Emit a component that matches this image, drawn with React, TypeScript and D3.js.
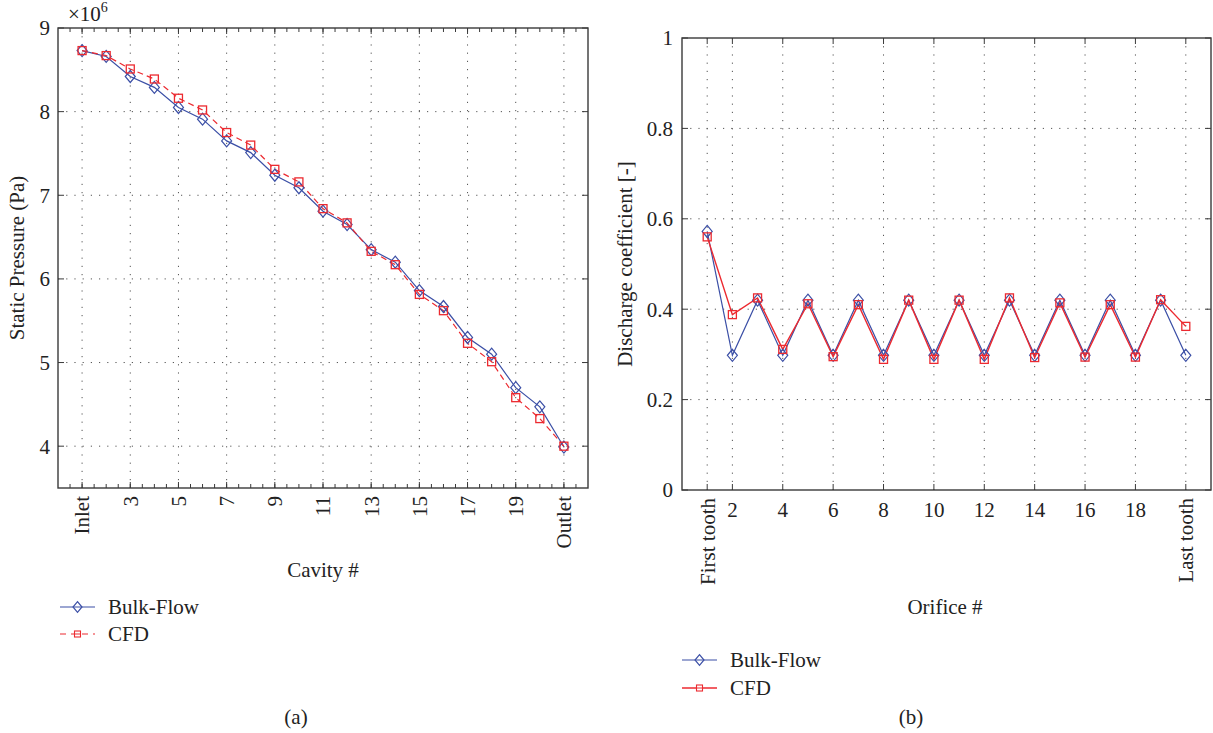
import React from "react";
import * as d3 from "d3";

// ---------- data ----------
const cavities = [1, 2, 3, 4, 5, 6, 7, 8, 9, 10, 11, 12, 13, 14, 15, 16, 17, 18, 19, 20, 21];
const bulkFlowPressure = [8.73, 8.66, 8.42, 8.29, 8.05, 7.91, 7.65, 7.51, 7.24, 7.09, 6.81, 6.65, 6.35, 6.2, 5.86, 5.67, 5.3, 5.1, 4.7, 4.47, 3.99];
const cfdPressure = [8.73, 8.67, 8.51, 8.39, 8.16, 8.02, 7.75, 7.6, 7.31, 7.16, 6.84, 6.67, 6.33, 6.17, 5.815, 5.62, 5.23, 5.01, 4.58, 4.33, 4.0];
const cavityTickValues = [1, 3, 5, 7, 9, 11, 13, 15, 17, 19, 21];
const cavityTickLabels = ["Inlet", "3", "5", "7", "9", "11", "13", "15", "17", "19", "Outlet"];
const pressureTicks = [4, 5, 6, 7, 8, 9];

const orifices = [1, 2, 3, 4, 5, 6, 7, 8, 9, 10, 11, 12, 13, 14, 15, 16, 17, 18, 19, 20];
const bulkFlowCd = [0.572, 0.298, 0.42, 0.298, 0.42, 0.298, 0.42, 0.298, 0.42, 0.298, 0.42, 0.298, 0.42, 0.298, 0.42, 0.298, 0.42, 0.298, 0.42, 0.298];
const cfdCd = [0.56, 0.388, 0.425, 0.311, 0.412, 0.295, 0.41, 0.289, 0.42, 0.289, 0.42, 0.289, 0.425, 0.293, 0.414, 0.294, 0.41, 0.294, 0.421, 0.362];
const orificeTickValues = [1, 2, 4, 6, 8, 10, 12, 14, 16, 18, 20];
const orificeTickLabels = ["First tooth", "2", "4", "6", "8", "10", "12", "14", "16", "18", "Last tooth"];
const cdTicks = [0, 0.2, 0.4, 0.6, 0.8, 1];
const cdTickLabels = ["0", "0.2", "0.4", "0.6", "0.8", "1"];

const seriesNames = ["Bulk-Flow", "CFD"];

// ---------- style ----------
const BLUE = "#3b4fa6";
const RED = "#ec2a30";
const AXIS = "#3a3a3a";
const FONT = "'Liberation Serif', 'DejaVu Serif', serif";
const FS = 21;

function Diamond({ x, y, s = 5 }: { x: number; y: number; s?: number }) {
  return (
    <path
      d={`M${x},${y - s * 1.2}L${x + s},${y}L${x},${y + s * 1.2}L${x - s},${y}Z`}
      fill="none"
      stroke={BLUE}
      strokeWidth={1.2}
    />
  );
}
function Square({ x, y, s = 4 }: { x: number; y: number; s?: number }) {
  return <rect x={x - s} y={y - s} width={2 * s} height={2 * s} fill="none" stroke={RED} strokeWidth={1.3} />;
}

const gridDash = "1.2,7";

function LeftChart() {
  const L = 58, R = 588, T = 28, B = 488;
  const x = d3.scaleLinear().domain([0, 22]).range([L, R]);
  const y = d3.scaleLinear().domain([3.5, 9]).range([B, T]);
  const line = d3.line<number>().x((_, i) => x(cavities[i])).y((d) => y(d));
  const minor = d3.range(0.5, 22, 0.5);
  return (
    <g fontFamily={FONT} fontSize={FS} fill="#222">
      {cavityTickValues.map((v) => (
        <line key={"gx" + v} x1={x(v)} x2={x(v)} y1={T} y2={B} stroke="#555" strokeDasharray={gridDash} strokeWidth={1} />
      ))}
      {pressureTicks.slice(0, -1).map((v) => (
        <line key={"gy" + v} x1={L} x2={R} y1={y(v)} y2={y(v)} stroke="#555" strokeDasharray={gridDash} strokeWidth={1} />
      ))}
      {minor.map((v) => (
        <g key={"mt" + v}>
          <line x1={x(v)} x2={x(v)} y1={B} y2={B - 4} stroke={AXIS} strokeWidth={1} />
          <line x1={x(v)} x2={x(v)} y1={T} y2={T + 4} stroke={AXIS} strokeWidth={1} />
        </g>
      ))}
      {cavityTickValues.map((v) => (
        <g key={"xt" + v}>
          <line x1={x(v)} x2={x(v)} y1={B} y2={B - 6} stroke={AXIS} strokeWidth={1} />
          <line x1={x(v)} x2={x(v)} y1={T} y2={T + 6} stroke={AXIS} strokeWidth={1} />
        </g>
      ))}
      {pressureTicks.map((v) => (
        <g key={"yt" + v}>
          <line x1={L} x2={L + 6} y1={y(v)} y2={y(v)} stroke={AXIS} strokeWidth={1} />
          <line x1={R} x2={R - 6} y1={y(v)} y2={y(v)} stroke={AXIS} strokeWidth={1} />
          <text x={L - 8} y={y(v)} textAnchor="end" dy="0.35em">{v}</text>
        </g>
      ))}
      <rect x={L} y={T} width={R - L} height={B - T} fill="none" stroke={AXIS} strokeWidth={1.4} />
      {cavityTickValues.map((v, i) => (
        <text key={"xl" + v} transform={`translate(${x(v)},${B + 8}) rotate(-90)`} textAnchor="end" dy="0.35em">
          {cavityTickLabels[i]}
        </text>
      ))}
      <text x={68} y={21} fontSize={FS}>
        ×10<tspan fontSize={14} dy={-9}>6</tspan>
      </text>
      <text transform={`translate(24,${(T + B) / 2}) rotate(-90)`} textAnchor="middle">Static Pressure (Pa)</text>
      <text x={323} y={577} textAnchor="middle">Cavity #</text>
      <path d={line(bulkFlowPressure) || ""} fill="none" stroke={BLUE} strokeWidth={1.2} />
      <path d={line(cfdPressure) || ""} fill="none" stroke={RED} strokeWidth={1.2} strokeDasharray="6,4" />
      {bulkFlowPressure.map((d, i) => <Diamond key={"bd" + i} x={x(cavities[i])} y={y(d)} />)}
      {cfdPressure.map((d, i) => <Square key={"cs" + i} x={x(cavities[i])} y={y(d)} />)}
      <line x1={60} x2={95} y1={607} y2={607} stroke={BLUE} strokeWidth={1.2} />
      <Diamond x={77.5} y={607} s={4.5} />
      <text x={108} y={607} dy="0.35em">{seriesNames[0]}</text>
      <line x1={60} x2={95} y1={634} y2={634} stroke={RED} strokeWidth={1.2} strokeDasharray="6,5" />
      <rect x={74.5} y={631} width={6} height={6} fill="white" stroke={RED} strokeWidth={1.1} />
      <line x1={74.5} x2={80.5} y1={634} y2={634} stroke={RED} strokeWidth={1} />
      <text x={108} y={634} dy="0.35em">{seriesNames[1]}</text>
      <text x={296} y={717} textAnchor="middle" dy="0.35em">(a)</text>
    </g>
  );
}

function RightChart() {
  const L = 682, R = 1211, T = 38, B = 490;
  const x = d3.scaleLinear().domain([0, 21]).range([L, R]);
  const y = d3.scaleLinear().domain([0, 1]).range([B, T]);
  const line = d3.line<number>().x((_, i) => x(orifices[i])).y((d) => y(d));
  return (
    <g fontFamily={FONT} fontSize={FS} fill="#222">
      {orificeTickValues.map((v) => (
        <line key={"gx" + v} x1={x(v)} x2={x(v)} y1={T} y2={B} stroke="#555" strokeDasharray={gridDash} strokeWidth={1} />
      ))}
      {cdTicks.slice(1, -1).map((v) => (
        <line key={"gy" + v} x1={L} x2={R} y1={y(v)} y2={y(v)} stroke="#555" strokeDasharray={gridDash} strokeWidth={1} />
      ))}
      {orificeTickValues.map((v) => (
        <g key={"xt" + v}>
          <line x1={x(v)} x2={x(v)} y1={B} y2={B - 6} stroke={AXIS} strokeWidth={1} />
          <line x1={x(v)} x2={x(v)} y1={T} y2={T + 6} stroke={AXIS} strokeWidth={1} />
        </g>
      ))}
      {cdTicks.map((v, i) => (
        <g key={"yt" + v}>
          <line x1={L} x2={L + 6} y1={y(v)} y2={y(v)} stroke={AXIS} strokeWidth={1} />
          <line x1={R} x2={R - 6} y1={y(v)} y2={y(v)} stroke={AXIS} strokeWidth={1} />
          <text x={L - 9} y={y(v)} textAnchor="end" dy="0.35em">{cdTickLabels[i]}</text>
        </g>
      ))}
      <rect x={L} y={T} width={R - L} height={B - T} fill="none" stroke={AXIS} strokeWidth={1.4} />
      {orificeTickValues.map((v, i) => {
        const lbl = orificeTickLabels[i];
        const rotated = lbl.length > 2;
        return rotated ? (
          <text key={"xl" + v} transform={`translate(${x(v)},${B + 8}) rotate(-90)`} textAnchor="end" dy="0.35em">{lbl}</text>
        ) : (
          <text key={"xl" + v} x={x(v)} y={B + 27} textAnchor="middle">{lbl}</text>
        );
      })}
      <text transform={`translate(632,${(T + B) / 2}) rotate(-90)`} textAnchor="middle">Discharge coefficient [-]</text>
      <text x={945} y={614} textAnchor="middle">Orifice #</text>
      <path d={line(bulkFlowCd) || ""} fill="none" stroke={BLUE} strokeWidth={1.2} />
      <path d={line(cfdCd) || ""} fill="none" stroke={RED} strokeWidth={1.4} />
      {bulkFlowCd.map((d, i) => <Diamond key={"bd" + i} x={x(orifices[i])} y={y(d)} />)}
      {cfdCd.map((d, i) => <Square key={"cs" + i} x={x(orifices[i])} y={y(d)} />)}
      <line x1={682} x2={717} y1={660} y2={660} stroke={BLUE} strokeWidth={1.2} />
      <Diamond x={699.5} y={660} s={4.5} />
      <text x={730} y={660} dy="0.35em">{seriesNames[0]}</text>
      <line x1={682} x2={717} y1={688} y2={688} stroke={RED} strokeWidth={1.4} />
      <rect x={696.5} y={685} width={6} height={6} fill="white" stroke={RED} strokeWidth={1.1} />
      <line x1={696.5} x2={702.5} y1={688} y2={688} stroke={RED} strokeWidth={1} />
      <text x={730} y={688} dy="0.35em">{seriesNames[1]}</text>
      <text x={911} y={717} textAnchor="middle" dy="0.35em">(b)</text>
    </g>
  );
}

export default function App() {
  return (
    <svg width={1213} height={733} style={{ position: "absolute", left: 0, top: 0, background: "white" }}>
      <rect width={1213} height={733} fill="white" />
      <LeftChart />
      <RightChart />
    </svg>
  );
}
